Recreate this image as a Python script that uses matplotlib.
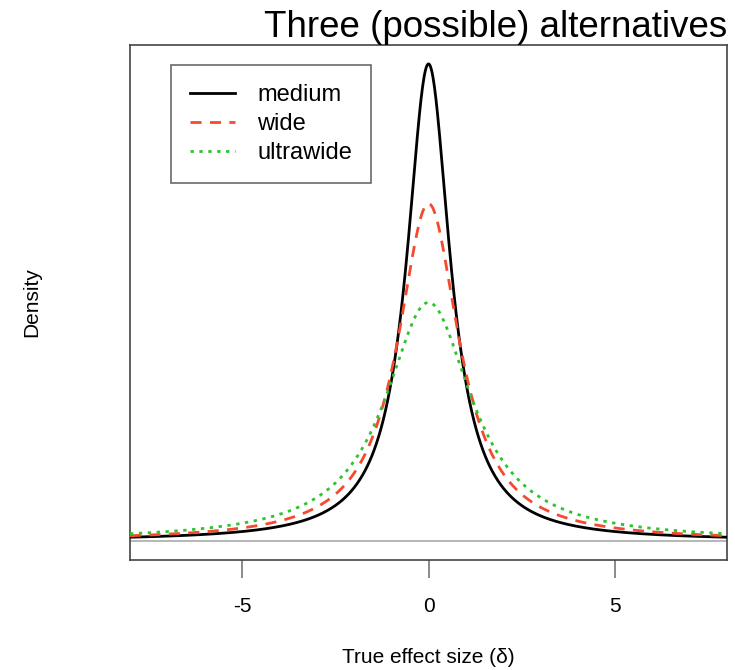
import numpy as np
import matplotlib
matplotlib.use("Agg")
import matplotlib.pyplot as plt

# Cauchy prior scales (r) for the three alternatives
series_names = ["medium", "wide", "ultrawide"]
scales = [np.sqrt(2) / 2, 1.0, np.sqrt(2)]
colors = ["#000000", "#F44B30", "#2EC42E"]
styles = ["-", (0, (4, 3)), (0, (1.2, 2.0))]
xticks = [-5, 0, 5]
xgrid = np.linspace(-8, 8, 801)

plt.rcParams['font.family'] = ['Liberation Sans', 'DejaVu Sans']
fig = plt.figure(figsize=(7.35, 6.7), dpi=100)
ax = fig.add_axes([130/735, 110/670, 597/735, 515/670])

ax.axhline(0, color="#AAAAAA", lw=1.2, zorder=1)
for name, r, c, ls in zip(series_names, scales, colors, styles):
    dens = 1.0 / (np.pi * r * (1 + (xgrid / r) ** 2))
    ax.plot(xgrid, dens, color=c, ls=ls, lw=2, label=name, zorder=3)

ax.set_xlim(-8, 8)
ax.set_ylim(-0.018, 0.468)
ax.set_yticks([])
ax.set_xticks(xticks)
ax.set_xticklabels([str(t) for t in xticks], fontsize=15)
ax.tick_params(axis='x', length=13, width=1.2, color="#777777", pad=14)
for s in ax.spines.values():
    s.set_color("#444444")
    s.set_linewidth(1.2)

ax.set_xlabel("True effect size (\u03b4)", fontsize=15, labelpad=23)
ax.set_ylabel("Density", fontsize=15, labelpad=64)
ax.set_title("Three (possible) alternatives", fontsize=26.5, loc="right", pad=4)

leg = ax.legend(loc="upper left", bbox_to_anchor=(41/597, 1 - 20/515), fontsize=17,
                frameon=True, fancybox=False, edgecolor="#444444", borderpad=0.8,
                handlelength=1.9, handletextpad=0.95, labelspacing=0.3, borderaxespad=0)
leg.get_frame().set_linewidth(1.2)

fig.savefig("out.png", dpi=100)
